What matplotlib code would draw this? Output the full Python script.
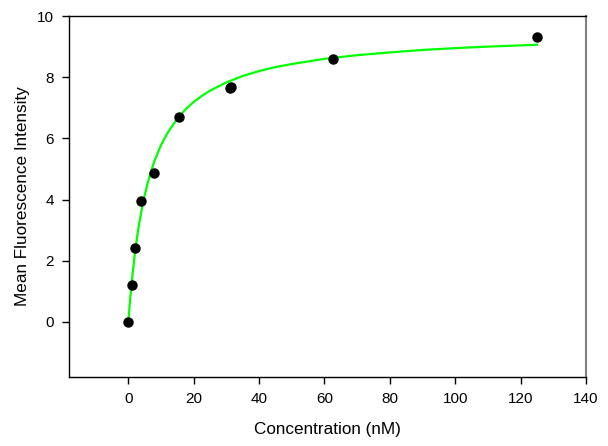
import matplotlib
matplotlib.use("Agg")
import matplotlib.pyplot as plt

plt.rcParams["font.family"] = ["Liberation Sans", "DejaVu Sans"]

# measured points
conc = [0.0, 0.98, 1.95, 3.9, 7.8, 15.6, 31.0, 31.5, 62.5, 125.0]
mfi = [0.0, 1.2, 2.43, 3.94, 4.87, 6.70, 7.66, 7.69, 8.59, 9.32]

# fitted saturation curve
fit_x = [0, 0.5, 1, 2, 3, 4, 5, 6, 7, 8, 9, 10, 12, 15, 17.5, 20, 22.5,
         25, 30, 35, 40, 45, 50, 60, 70, 80, 90, 100, 110, 125]
fit_y = [0.0, 0.68, 1.27, 2.24, 3.01, 3.63, 4.14, 4.57, 4.94, 5.26, 5.53,
         5.78, 6.18, 6.65, 6.95, 7.19, 7.39, 7.56, 7.83, 8.04, 8.20, 8.33,
         8.43, 8.60, 8.72, 8.81, 8.89, 8.95, 9.00, 9.06]

x_ticks = [0, 20, 40, 60, 80, 100, 120, 140]
y_ticks = [0, 2, 4, 6, 8, 10]

fig = plt.figure(figsize=(6.08, 4.46), dpi=100)
ax = fig.add_axes([0.1143, 0.1547, 0.8495, 0.8094])

ax.plot(fit_x, fit_y, color="#00ff00", lw=1.6, zorder=2)
ax.plot(conc, mfi, "o", color="black", ms=6.5, zorder=3)

ax.set_xlim(-18, 140)
ax.set_ylim(-1.8, 10)
ax.set_xticks(x_ticks)
ax.set_yticks(y_ticks)
ax.tick_params(direction="out", length=5, width=1, labelsize=11,
               top=False, right=False, pad=6)
ax.spines["right"].set_color("#808080")
ax.spines["right"].set_linewidth(1.5)
for s in ["left", "bottom", "top"]:
    ax.spines[s].set_linewidth(1)

ax.set_xlabel("Concentration (nM)", fontsize=12.3, labelpad=11)
ax.set_ylabel("Mean Fluorescence Intensity", fontsize=12.3, labelpad=5)

fig.savefig("out.png", dpi=100)
